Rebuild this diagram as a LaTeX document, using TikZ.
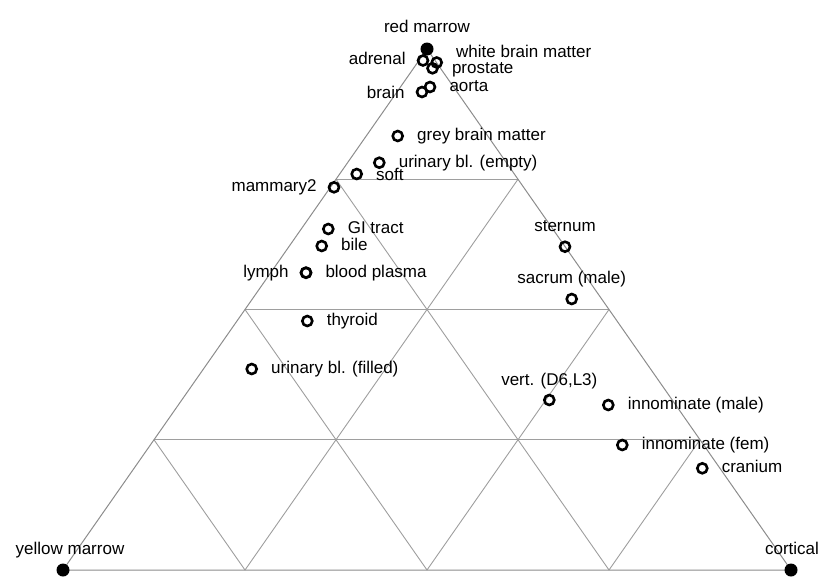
\documentclass[tikz,border=0pt]{standalone}
\usepackage{fontspec}
\setmainfont{Liberation Sans}
\usepackage{tikz}
\usetikzlibrary{positioning,calc}
\tikzset{
  vnode/.style={circle,fill,minimum size=13pt,inner sep=0pt},
  pnode/.style={circle,draw,line width=2.6pt,minimum size=10pt,inner sep=0pt},
  lbl/.style={inner sep=0pt,text height=12.2pt,text depth=3.6pt,font=\fontsize{17}{20}\selectfont},
  edg/.style={draw=black!45,line width=1pt},
  grd/.style={draw=black!38,line width=0.9pt}
}

\begin{document}
\begin{tikzpicture}[x=1pt,y=-1pt]
\useasboundingbox (0,0) rectangle (821,584);
\coordinate (Y) at (63,570);
\coordinate (C) at (791,570);
\coordinate (R) at (427,49);
% grid
\draw[grd] ($(Y)!0.25!(R)$) -- ($(C)!0.25!(R)$);
\draw[grd] ($(Y)!0.5!(R)$) -- ($(C)!0.5!(R)$);
\draw[grd] ($(Y)!0.75!(R)$) -- ($(C)!0.75!(R)$);
\draw[grd] ($(Y)!0.25!(C)$) -- ($(R)!0.25!(C)$);
\draw[grd] ($(Y)!0.5!(C)$) -- ($(R)!0.5!(C)$);
\draw[grd] ($(Y)!0.75!(C)$) -- ($(R)!0.75!(C)$);
\draw[grd] ($(C)!0.25!(Y)$) -- ($(R)!0.25!(Y)$);
\draw[grd] ($(C)!0.5!(Y)$) -- ($(R)!0.5!(Y)$);
\draw[grd] ($(C)!0.75!(Y)$) -- ($(R)!0.75!(Y)$);
\draw[edg] (Y) -- (C) -- (R) -- cycle;
% corners
\node[vnode] (yellow) at (Y) {};
\node[vnode] (cortical) at (C) {};
\node[vnode] (red) at (R) {};
\node[lbl,above=5pt of yellow,xshift=7pt] {yellow marrow};
\node[lbl,above=5pt of cortical,xshift=1pt] {cortical};
\node[lbl,above=6pt of red] {red marrow};
% tissues
\node[pnode] (adrenal) at (423,60.5) {};
\node[pnode] (wbm) at (436.7,62.5) {};
\node[pnode] (prostate) at (432.5,68.3) {};
\node[pnode] (aorta) at (430,87) {};
\node[pnode] (brain) at (422,92) {};
\node[pnode] (gbm) at (397.7,136) {};
\node[pnode] (ube) at (379.3,162.7) {};
\node[pnode] (soft) at (356.7,174) {};
\node[pnode] (mammary) at (334,187.3) {};
\node[pnode] (gi) at (328.3,229) {};
\node[pnode] (bile) at (321.7,246) {};
\node[pnode] (lymph) at (306,272.7) {};
\node[pnode] (plasma) at (306,272.7) {};
\node[pnode] (thyroid) at (307.3,321) {};
\node[pnode] (ubf) at (251.7,369) {};
\node[pnode] (sternum) at (565,246.7) {};
\node[pnode] (sacrum) at (571.7,299) {};
\node[pnode] (vert) at (549.3,400) {};
\node[pnode] (innm) at (608.3,405) {};
\node[pnode] (innf) at (622.3,445) {};
\node[pnode] (cranium) at (702.3,468.3) {};
\node[lbl,left=10.9pt of adrenal] {adrenal};
\node[lbl,right=13pt of wbm,yshift=9.5pt] {white brain matter};
\node[lbl,right=13pt of prostate,yshift=-1pt] {prostate};
\node[lbl,right=13pt of aorta] {aorta};
\node[lbl,left=10.9pt of brain,yshift=-2pt] {brain};
\node[lbl,right=13pt of gbm] {grey brain matter};
\node[lbl,right=13pt of ube] {urinary bl. (empty)};
\node[lbl,right=13pt of soft,yshift=-2pt] {soft};
\node[lbl,left=10.9pt of mammary] {mammary2};
\node[lbl,right=13pt of gi] {GI tract};
\node[lbl,right=13pt of bile] {bile};
\node[lbl,left=10.9pt of lymph] {lymph};
\node[lbl,right=13pt of plasma] {blood plasma};
\node[lbl,right=13pt of thyroid] {thyroid};
\node[lbl,right=13pt of ubf] {urinary bl. (filled)};
\node[lbl,above=5pt of sternum] {sternum};
\node[lbl,above=5pt of sacrum] {sacrum (male)};
\node[lbl,above=4.5pt of vert] {vert. (D6,L3)};
\node[lbl,right=13pt of innm] {innominate (male)};
\node[lbl,right=13pt of innf] {innominate (fem)};
\node[lbl,right=13pt of cranium] {cranium};
\end{tikzpicture}
\end{document}
